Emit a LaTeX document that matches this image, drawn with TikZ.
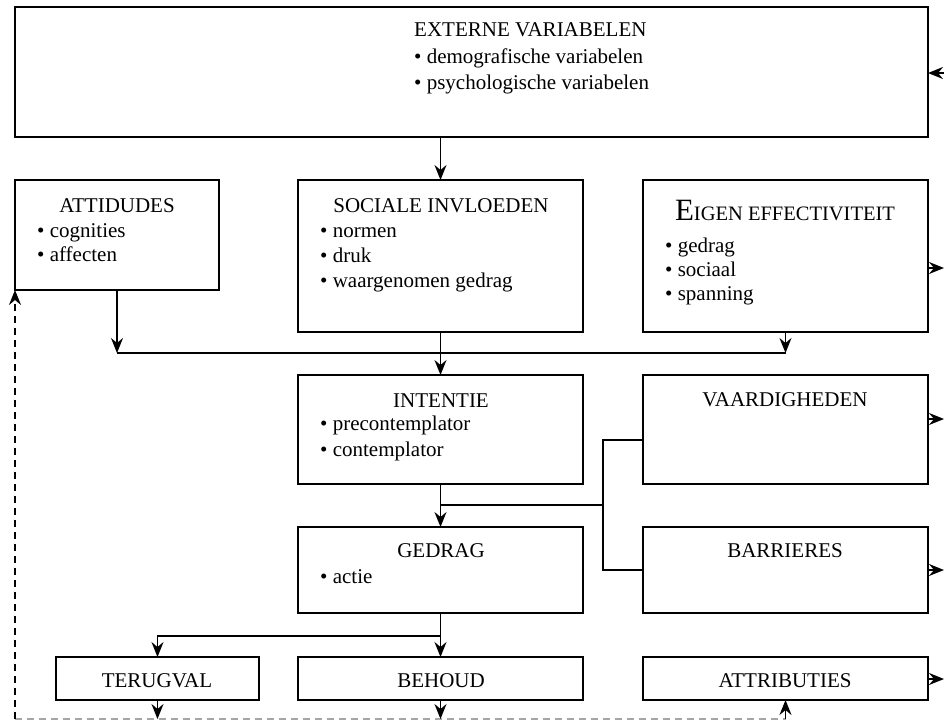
\documentclass[tikz,border=0pt]{standalone}
\usepackage{fontspec}
\setmainfont{Liberation Serif}
\usetikzlibrary{arrows.meta}
\tikzset{
 box/.style={draw, line width=1.6pt, inner sep=0, outer sep=0, anchor=north west},
 ttl/.style={inner sep=0, anchor=base, font=\fontsize{21}{26}\selectfont},
 item/.style={inner sep=0, anchor=base west, font=\fontsize{21}{26}\selectfont},
 wire/.style={line width=1.6pt},
 tip/.style={>={Stealth[length=15pt, width=12pt, inset=5pt]}},
 link/.style={wire, ->, tip},
 back/.style={line width=1.2pt, dash pattern=on 7pt off 5pt},
}
\begin{document}
\begin{tikzpicture}[x=1pt, y=-1pt]
\useasboundingbox (0,0) rectangle (944,721);
% boxes
\node[box, minimum width=913, minimum height=130] (ext) at (15,7) {};
\node[box, minimum width=204, minimum height=110] (att) at (15,180) {};
\node[box, minimum width=285, minimum height=152] (soc) at (298,180) {};
\node[box, minimum width=285, minimum height=152] (eig) at (643,180) {};
\node[box, minimum width=285, minimum height=109] (int) at (298,375) {};
\node[box, minimum width=285, minimum height=109] (vaa) at (643,375) {};
\node[box, minimum width=285, minimum height=86] (ged) at (298,527) {};
\node[box, minimum width=285, minimum height=86] (bar) at (643,527) {};
\node[box, minimum width=203, minimum height=43] (ter) at (56,657) {};
\node[box, minimum width=285, minimum height=43] (beh) at (298,657) {};
\node[box, minimum width=285, minimum height=43] (atr) at (643,657) {};

% titles
\node[ttl, anchor=base west] (ext-t) at (414,36) {EXTERNE VARIABELEN};
\node[ttl] (att-t) at (117,212) {ATTIDUDES};
\node[ttl] (soc-t) at (441,212) {SOCIALE INVLOEDEN};
\node[ttl] (eig-t) at (785,220) {{\fontsize{31}{31}\selectfont E}{\fontsize{20.5}{26}\selectfont IGEN EFFECTIVITEIT}};
\node[ttl] (int-t) at (441,407) {INTENTIE};
\node[ttl] (vaa-t) at (785,406) {VAARDIGHEDEN};
\node[ttl] (ged-t) at (441,557) {GEDRAG};
\node[ttl] (bar-t) at (785,557) {BARRIERES};
\node[ttl] (ter-t) at (157,687) {TERUGVAL};
\node[ttl] (beh-t) at (441,687) {BEHOUD};
\node[ttl] (atr-t) at (785,687) {ATTRIBUTIES};

% items
\foreach \t [count=\i] in {demografische variabelen, psychologische variabelen}
  \node[item] (ext-\i) at (414,37+26*\i) {\textbullet\ \t};
\foreach \t [count=\i] in {cognities, affecten}
  \node[item] (att-\i) at (37,213+24*\i) {\textbullet\ \t};
\foreach \t [count=\i] in {normen, druk, waargenomen gedrag}
  \node[item] (soc-\i) at (320,212+25*\i) {\textbullet\ \t};
\foreach \t [count=\i] in {gedrag, sociaal, spanning}
  \node[item] (eig-\i) at (665,228+24*\i) {\textbullet\ \t};
\foreach \t [count=\i] in {precontemplator, contemplator}
  \node[item] (int-\i) at (320,404+26*\i) {\textbullet\ \t};
\node[item] (ged-1) at (320,583) {\textbullet\ actie};

% connectors
\coordinate (bus) at (441,353);
\coordinate (fork) at (603,505);
\coordinate (vaain) at (643,440);
\coordinate (split) at (441,636);
\coordinate (ret) at (15,719);
\draw[link] (soc.north |- ext.south) -- (soc.north);
\draw[link] (att.south) -- (att.south |- bus);
\draw[link] (eig.south) -- (eig.south |- bus);
\draw[wire] (att.south |- bus) -- (eig.south |- bus);
\draw[link] (soc.south) -- (int.north);
\draw[link] (int.south) -- (ged.north);
\draw[wire] (int.south |- fork) -- (fork);
\draw[wire] (vaain) -| (fork) |- (bar.west);
\draw[link] (ged.south) -- (beh.north);
\draw[link] (split) -| (ter.north);

% feedback
\draw[back, gray!70] (ret) -- (atr.south |- ret);
\draw[back, ->, tip] (ret) -- (att.south west);
\draw[link] (ter.south) -- (ter.south |- ret);
\draw[link] (beh.south) -- (beh.south |- ret);
\draw[link] (atr.south |- ret) -- (atr.south);

% right edge
\coordinate (extin) at (944,73);
\draw[link] (extin) -- (extin -| ext.east);
\foreach \n/\y in {eig/268, vaa/419, bar/570, atr/679} {
  \coordinate (\n-out) at (944,\y);
  \draw[link] (\n-out -| \n.east) -- (\n-out);
}
\end{tikzpicture}
\end{document}
